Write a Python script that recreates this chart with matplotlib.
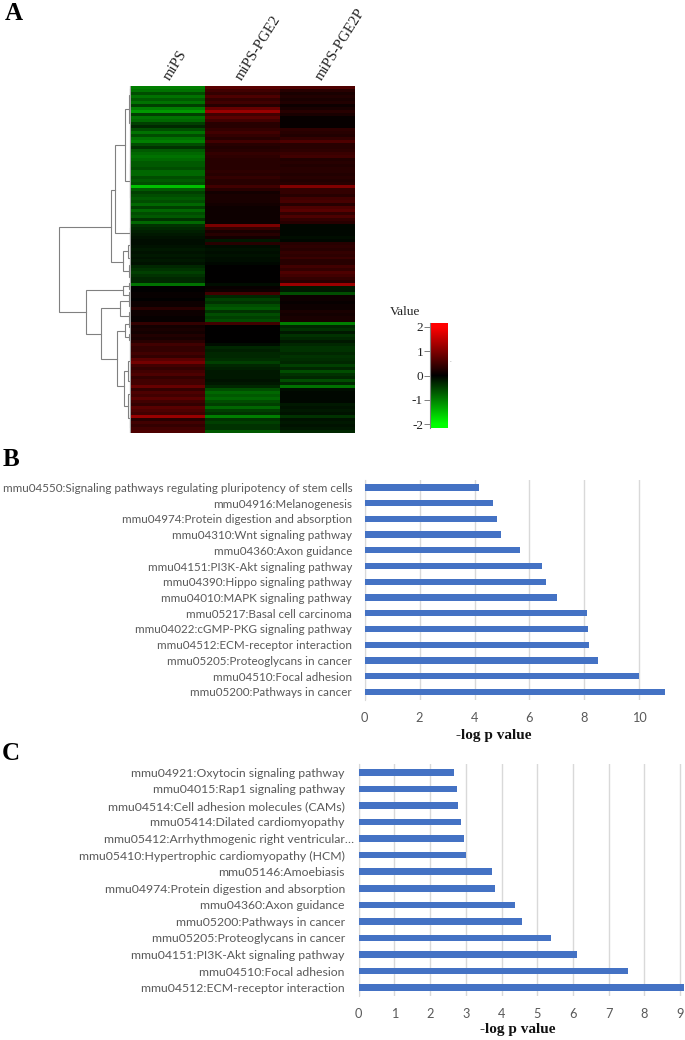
import matplotlib
matplotlib.use('Agg')
import matplotlib.pyplot as plt
from matplotlib.colors import LinearSegmentedColormap
from matplotlib.transforms import ScaledTranslation
import numpy as np

W, H = 685, 1040

heat_labels = ['miPS', 'miPS-PGE2', 'miPS-PGE2P']
heat_mips = [
    -1.0, -0.9, -0.6, -0.9, -0.7, -0.9, -0.5, -1.0, -1.2, -0.5,
    -0.9, -0.8, -0.5, -0.3, -0.6, -0.9, -0.6, -0.9, -1.0, -0.6,
    -0.4, -0.7, -0.8, -0.9, -0.8, -0.7, -0.7, -0.6, -0.8, -0.8,
    -0.6, -0.7, -0.6, -1.5, -0.7, -0.5, -0.6, -0.7, -0.6, -0.8,
    -0.5, -0.8, -0.6, -0.7, -0.4, -0.8, -0.4, -0.3, -0.25, -0.2,
    -0.15, -0.1, -0.1, -0.15, -0.2, -0.15, -0.2, -0.15, -0.2, -0.15,
    -0.3, -0.4, -0.5, -0.4, -0.3, -0.3, -0.9, 0.0, 0.0, 0.05,
    0.05, 0.0, 0.1, 0.1, 0.3, 0.1, 0.1, 0.05, 0.05, 0.4,
    0.15, 0.2, 0.15, 0.25, 0.2, 0.3, 0.5, 0.4, 0.4, 0.5,
    0.4, 0.7, 0.9, 0.5, 0.4, 0.5, 0.6, 0.4, 0.5, 0.5,
    0.8, 0.4, 0.6, 0.5, 0.7, 0.5, 0.4, 0.7, 0.6, 0.5,
    1.2, 0.3, 0.5, 0.4, 0.5, 0.6,
]
heat_pge2 = [
    0.7, 0.5, 0.4, 0.6, 0.4, 0.5, 0.3, 0.8, 1.2, 0.5,
    0.7, 0.5, 0.3, 0.3, 0.4, 0.5, 0.4, 0.3, 0.5, 0.3,
    0.25, 0.3, 0.4, 0.35, 0.3, 0.3, 0.3, 0.3, 0.35, 0.3,
    0.4, 0.3, 0.3, 0.5, 0.3, 0.15, 0.2, 0.2, 0.2, 0.15,
    0.1, 0.1, 0.1, 0.1, 0.1, 0.1, 0.95, 0.4, 0.2, 0.3,
    0.15, -0.2, 0.3, -0.1, -0.15, -0.1, -0.15, -0.1, -0.1, -0.05,
    0.0, 0.0, 0.0, 0.0, 0.0, 0.0, -0.1, 0.05, 0.1, 0.5,
    -0.3, -0.5, -0.4, -0.6, -0.7, -0.4, -0.6, -0.5, -0.6, 0.5,
    0.0, 0.0, 0.0, 0.0, 0.0, 0.0, -0.1, -0.3, -0.25, -0.3,
    -0.3, -0.35, -0.5, -0.3, -0.25, -0.2, -0.2, -0.2, -0.15, -0.2,
    -0.3, -0.6, -0.8, -0.7, -0.8, -0.6, -0.5, -0.8, -0.5, -0.4,
    -1.0, -0.4, -0.5, -0.4, -0.4, -0.7,
]
heat_pge2p = [
    0.6, 0.3, 0.2, 0.25, 0.2, 0.25, 0.1, 0.2, 0.3, 0.2,
    0.05, 0.05, 0.05, 0.05, 0.35, 0.3, 0.25, 0.4, 0.6, 0.3,
    0.3, 0.35, 0.45, 0.5, 0.25, 0.3, 0.25, 0.3, 0.3, 0.25,
    0.3, 0.25, 0.3, 1.0, 0.4, 0.4, 0.3, 0.5, 0.55, 0.3,
    0.6, 0.7, 0.4, 0.6, 0.4, 0.3, -0.05, -0.05, -0.05, -0.05,
    -0.1, -0.05, 0.3, 0.35, 0.3, 0.4, 0.35, 0.45, 0.3, 0.3,
    0.5, 0.4, 0.6, 0.5, 0.4, 0.3, 1.2, -0.2, -0.2, -0.6,
    0.1, 0.1, 0.05, 0.1, 0.1, 0.2, 0.15, 0.2, 0.2, -1.0,
    -0.3, -0.4, -0.2, -0.4, -0.3, -0.2, -0.3, -0.4, -0.4, -0.3,
    -0.4, -0.35, -0.3, -0.5, -0.3, -0.6, -0.4, -0.3, -0.6, -0.3,
    -0.9, -0.1, -0.05, -0.05, -0.05, -0.05, -0.2, -0.15, -0.2, -0.15,
    -0.4, -0.15, -0.2, -0.15, -0.2, -0.3,
]

# dendrogram merges: height, top row, bottom row, height of each child
tree_height = [72, 20, 16, 6, 8, 45, 8, 30, 11, 14, 6, 7, 2, 1.5, 1.5, 3, 2, 2, 2, 2, 2, 2, 2, 3, 3, 1.5, 1.5]
tree_top = [47, 34.7, 19.7, 7.7, 55.3, 68.3, 67, 74.3, 72, 82, 79.7, 95.3, 3, 26, 47.5, 53, 60, 66, 69, 70.5, 75.5, 79, 83, 92, 103, 1, 110]
tree_bottom = [75.7, 58.7, 49.3, 31.7, 62, 83, 70, 91.3, 77, 100.3, 84, 107, 12.5, 37, 51, 57.5, 64, 68, 71, 73.5, 78.5, 80.5, 85, 98.5, 111, 5, 114]
tree_top_child = [20, 16, 6, 2, 3, 8, 2, 11, 2, 6, 2, 3, 1, 1, 1, 1, 1, 1, 1, 1, 1, 1, 1, 1, 1, 1, 1]
tree_bottom_child = [45, 8, 1.5, 1.5, 2, 30, 2, 14, 2, 7, 2, 3, 1, 1, 1, 1, 1, 1, 1, 1, 1, 1, 1, 1, 1, 1, 1]

scale_ticks = [2, 1, 0, -1, -2]

b_labels = [
    'mmu04550:Signaling pathways regulating pluripotency of stem cells',
    'mmu04916:Melanogenesis',
    'mmu04974:Protein digestion and absorption',
    'mmu04310:Wnt signaling pathway',
    'mmu04360:Axon guidance',
    'mmu04151:PI3K-Akt signaling pathway',
    'mmu04390:Hippo signaling pathway',
    'mmu04010:MAPK signaling pathway',
    'mmu05217:Basal cell carcinoma',
    'mmu04022:cGMP-PKG signaling pathway',
    'mmu04512:ECM-receptor interaction',
    'mmu05205:Proteoglycans in cancer',
    'mmu04510:Focal adhesion',
    'mmu05200:Pathways in cancer',
]
b_values = [4.15, 4.68, 4.82, 4.98, 5.67, 6.45, 6.6, 7.0, 8.1, 8.15, 8.18, 8.5, 10.0, 10.95]

c_labels = [
    'mmu04921:Oxytocin signaling pathway',
    'mmu04015:Rap1 signaling pathway',
    'mmu04514:Cell adhesion molecules (CAMs)',
    'mmu05414:Dilated cardiomyopathy',
    'mmu05412:Arrhythmogenic right ventricular\u2026',
    'mmu05410:Hypertrophic cardiomyopathy (HCM)',
    'mmu05146:Amoebiasis',
    'mmu04974:Protein digestion and absorption',
    'mmu04360:Axon guidance',
    'mmu05200:Pathways in cancer',
    'mmu05205:Proteoglycans in cancer',
    'mmu04151:PI3K-Akt signaling pathway',
    'mmu04510:Focal adhesion',
    'mmu04512:ECM-receptor interaction',
]
c_values = [2.66, 2.75, 2.78, 2.86, 2.94, 3.01, 3.74, 3.82, 4.39, 4.57, 5.4, 6.12, 7.53, 9.1]

SERIF = 'Liberation Serif'
SANS = 'Lato'
GREY = '#595959'


def box(fig, left, top, right, bottom):
    return fig.add_axes([left / W, 1 - bottom / H, (right - left) / W, (bottom - top) / H])


def figText(fig, x, y, s, **kw):
    fig.text(x / W, 1 - y / H, s, **kw)


def drawHeatmap(fig, cmap):
    ax = box(fig, 131, 86, 355, 433)
    data = np.array([heat_mips, heat_pge2, heat_pge2p]).T
    ax.imshow(data, cmap=cmap, vmin=-2, vmax=2, aspect='auto', interpolation='nearest')
    ax.axis('off')

    for x, name in zip([172, 244, 324], heat_labels):
        figText(fig, x, 83, name, rotation=58, rotation_mode='anchor', ha='left', va='bottom',
                family=SERIF, fontsize=10.8, color='#222222')


def drawDendrogram(fig):
    ax = box(fig, 55, 86, 131, 433)
    ax.set_xlim(76, 0)
    ax.set_ylim(len(heat_mips), 0)
    ax.axis('off')
    for h, top, bottom, hTop, hBottom in zip(tree_height, tree_top, tree_bottom, tree_top_child, tree_bottom_child):
        ax.plot([hTop, h, h, hBottom], [top, top, bottom, bottom], color='#808080', lw=0.8,
                solid_joinstyle='miter')
    ax.axvline(1, color='#a0a0a0', lw=0.9)


def drawScale(fig, cmap):
    ax = box(fig, 430, 323, 448, 428)
    ramp = np.linspace(2.15, -2.15, 200).reshape(-1, 1)
    ax.imshow(ramp, cmap=cmap, vmin=-2, vmax=2, aspect='auto', extent=[0, 1, -2.15, 2.15])
    ax.set_xticks([])
    ax.set_yticks(scale_ticks)
    ax.set_yticklabels([str(t) for t in scale_ticks], family=SERIF, fontsize=9.5, color='#222222')
    ax.tick_params(axis='y', length=4, width=0.7, color='#808080', pad=1)
    for side in ['top', 'right', 'bottom']:
        ax.spines[side].set_visible(False)
    ax.spines['left'].set_color('#808080')
    figText(fig, 390, 312, 'Value', family=SERIF, fontsize=9.5, color='#222222', va='center')
    figText(fig, 450, 360, '.', family=SERIF, fontsize=5, color='#777777', va='center')


def drawBars(fig, rect, labels, values, xmax, ticks, labelPad, labelSize, xlabelPos):
    ax = box(fig, *rect)
    pos = np.arange(len(values))
    ax.barh(pos, values, height=0.4, color='#4472C4', zorder=3)
    ax.set_ylim(len(values) - 0.5, -0.5)
    ax.set_xlim(0, xmax)
    ax.set_xticks(ticks)
    ax.set_yticks(pos)
    ax.set_yticklabels(labels, family=SANS, fontsize=labelSize, color=GREY)
    ax.set_xticklabels([str(t) for t in ticks], family=SANS, fontsize=9.2, color=GREY)
    ax.tick_params(axis='both', length=0)
    ax.tick_params(axis='y', pad=labelPad)
    ax.tick_params(axis='x', pad=9)
    ax.grid(axis='x', color='#d9d9d9', lw=1, zorder=0)
    ax.set_axisbelow(True)
    for side in ['top', 'right', 'bottom']:
        ax.spines[side].set_visible(False)
    ax.spines['left'].set_color('#d9d9d9')
    figText(fig, xlabelPos[0], xlabelPos[1], '-log p value', family=SERIF, fontweight='bold',
            fontsize=11, color='#111111', ha='center', va='center')
    return ax


def main():
    fig = plt.figure(figsize=(W / 100, H / 100), dpi=100)
    cmap = LinearSegmentedColormap.from_list('greenRed', ['#00ff00', '#000000', '#ff0000'])

    drawHeatmap(fig, cmap)
    drawDendrogram(fig)
    drawScale(fig, cmap)
    drawBars(fig, (364.7, 479.5, 666.7, 699.7), b_labels, b_values, 11, [0, 2, 4, 6, 8, 10], 9, 8.4, (494, 735))
    axC = drawBars(fig, (358.7, 764, 683.6, 996), c_labels, c_values, 9.1, list(range(10)), 10, 8.8, (518, 1030))

    # the truncated label runs closer to the axis than the others
    longLabel = axC.get_yticklabels()[4]
    longLabel.set_transform(longLabel.get_transform() + ScaledTranslation(9 / 100, 0, fig.dpi_scale_trans))

    for x, y, letter in zip([5, 3, 2], [14, 459, 754], 'ABC'):
        figText(fig, x, y, letter, family=SERIF, fontweight='bold', fontsize=18, color='black', va='center')

    fig.savefig('out.png', dpi=100)


if __name__ == '__main__':
    main()
